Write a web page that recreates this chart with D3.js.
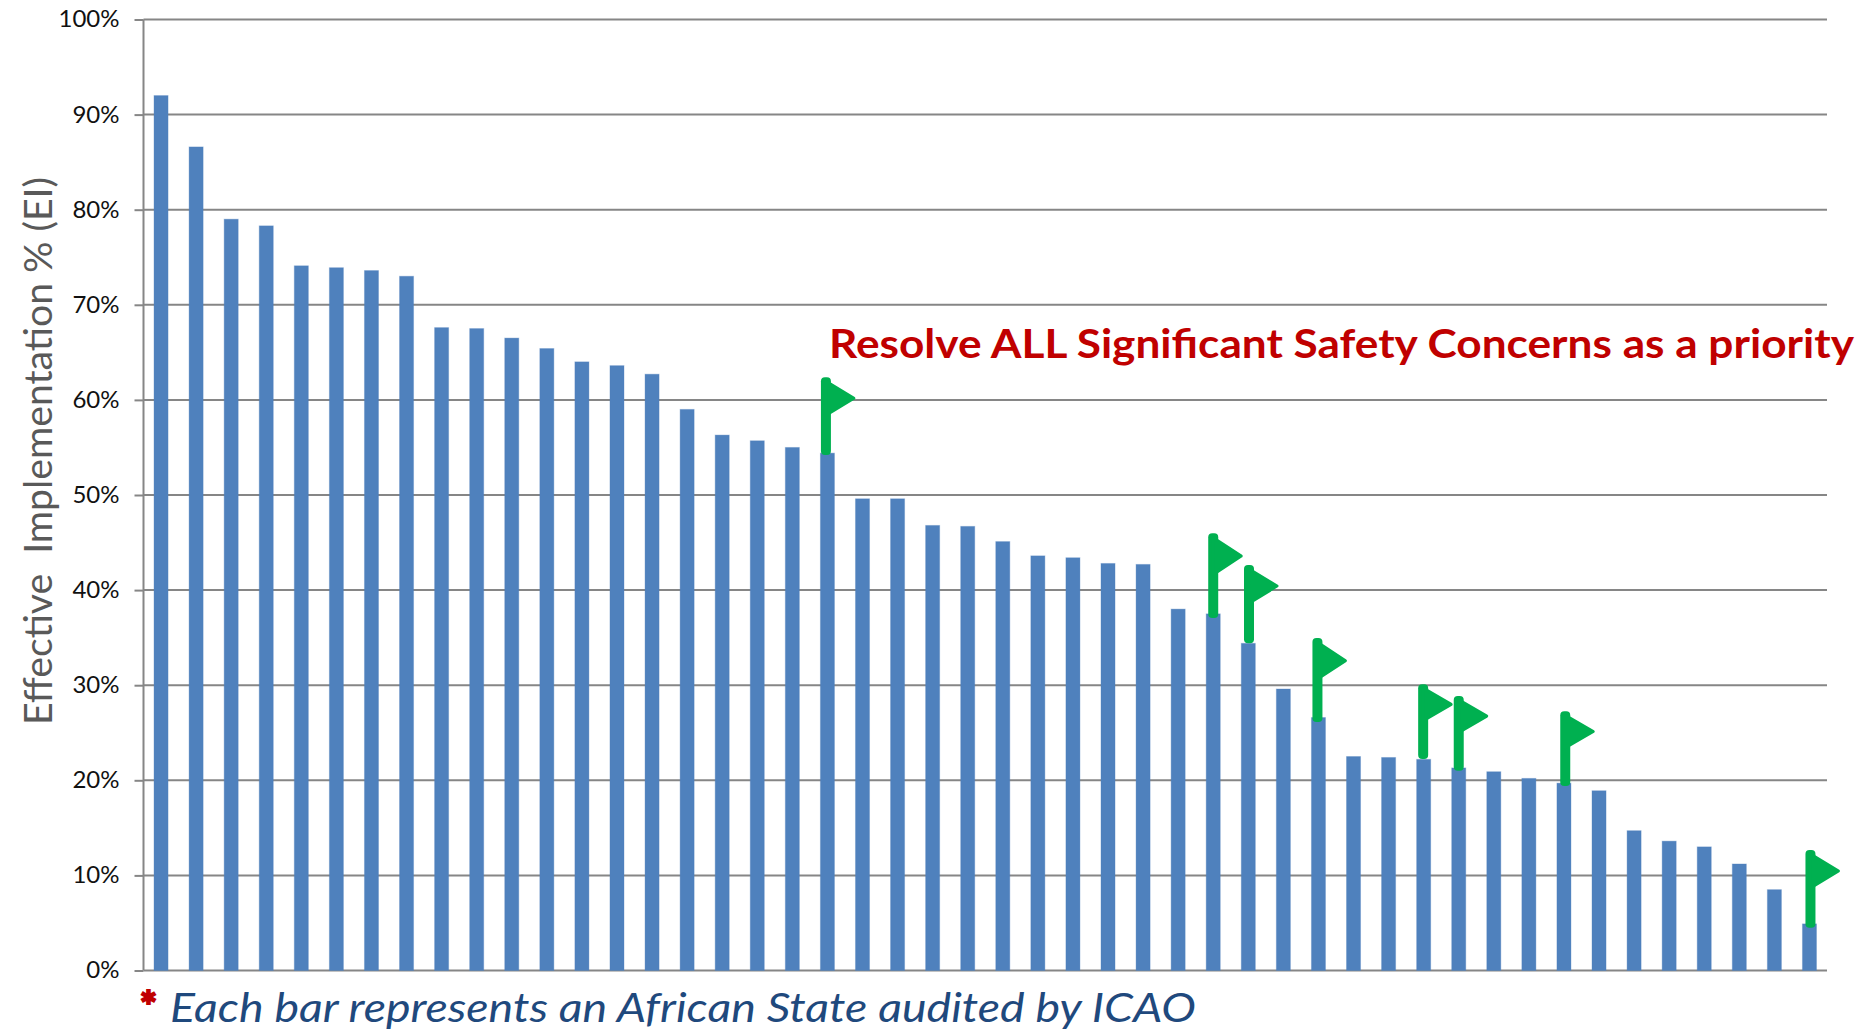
<!DOCTYPE html>
<html><head><meta charset="utf-8">
<script src="https://cdn.jsdelivr.net/npm/d3@7"></script>
<style>html,body{margin:0;padding:0;background:#fff;overflow:hidden}svg{display:block}text{font-family:Lato,sans-serif}</style>
</head><body><svg id="c" width="1872" height="1030"></svg>
<script>
const values=[92,86.6,79,78.3,74.1,73.9,73.6,73,67.6,67.5,66.5,65.4,64,63.6,62.7,59,56.3,55.7,55,54.4,49.6,49.6,46.8,46.7,45.1,43.6,43.4,42.8,42.7,38,37.5,34.4,29.6,26.6,22.5,22.4,22.2,21.3,20.9,20.2,19.7,18.9,14.7,13.6,13,11.2,8.5,4.9];
const flagged=[20,31,32,34,37,38,41,48];
const flagTops=[62.38,45.97,42.64,34.96,30.1,28.87,27.25,12.67];
const flagFeet=[54.2,37.07,34.4,26.13,22.24,21.0,19.4,4.5];
const flagNudge=[-1.5,0,0.7,-1,-0.5,0,1.3,1];
const yTicks=[0,10,20,30,40,50,60,70,80,90,100];
const svg=d3.select("#c");
const left=143.5,right=1827,top_=19.5,bottom=970.5;
const x=d3.scaleBand().domain(d3.range(1,values.length+1)).range([left,right]).paddingInner(0.6).paddingOuter(0.3);
const y=d3.scaleLinear().domain([0,100]).range([bottom,top_]);
const axis=svg.append("g").attr("transform",`translate(${left},0)`)
 .call(d3.axisLeft(y).tickValues(yTicks).tickFormat(d=>d+"%").tickSize(9).tickPadding(15));
axis.select(".domain").remove();
axis.selectAll(".tick line").attr("stroke","#868686").attr("stroke-width",2);
axis.selectAll(".tick text").attr("fill","#111").attr("dy","0.31em").style("font-size","24px");
svg.append("g").selectAll("line").data(yTicks).join("line")
 .attr("x1",left).attr("x2",right).attr("y1",d=>y(d)).attr("y2",d=>y(d))
 .attr("stroke","#868686").attr("stroke-width",2);
svg.append("line").attr("x1",left).attr("x2",left).attr("y1",top_).attr("y2",bottom).attr("stroke","#868686").attr("stroke-width",2);
svg.append("g").selectAll("rect").data(values).join("rect")
 .attr("x",(d,i)=>x(i+1)).attr("width",x.bandwidth()).attr("y",d=>y(d)).attr("height",d=>bottom-y(d))
 .attr("fill","#4F81BD").attr("stroke","#4F81BD").attr("stroke-opacity",0.35).attr("stroke-width",1);
const flags=svg.append("g").selectAll("g").data(flagged).join("g")
 .attr("transform",(d,i)=>`translate(${x(d)+x.bandwidth()/2+flagNudge[i]},${y(flagTops[i])})`);
const poleH=(i)=>y(flagFeet[i])-y(flagTops[i]);
flags.append("rect").attr("x",-5).attr("width",10).attr("y",0).attr("height",(d,i)=>poleH(i)).attr("rx",4).attr("fill","#00B050");
flags.append("path").attr("d",(d,i)=>{const k=poleH(i)/78;return `M0,${4*k} L28,${21*k} L0,${38*k} Z`;})
 .attr("fill","#00B050").attr("stroke","#00B050").attr("stroke-width",3).attr("stroke-linejoin","round");
svg.append("text").attr("x",829).attr("y",358).attr("fill","#C00000").attr("font-weight",700).attr("textLength",1025).attr("lengthAdjust","spacingAndGlyphs").style("font-size","41px").text("Resolve ALL Significant Safety Concerns as a priority");
svg.append("text").attr("transform","translate(52,451) rotate(-90)").attr("text-anchor","middle").attr("fill","#595959").attr("textLength",548).attr("lengthAdjust","spacingAndGlyphs").style("font-size","38px").style("white-space","pre").text("Effective  Implementation % (EI)");
svg.append("text").attr("x",140).attr("y",1021).attr("fill","#C00000").attr("stroke","#C00000").attr("stroke-width",2).attr("font-weight",900).style("font-size","40px").text("*");
svg.append("text").attr("x",170).attr("y",1022).attr("fill","#1F497D").attr("font-style","italic").attr("textLength",1026).attr("lengthAdjust","spacingAndGlyphs").style("font-size","41px").text("Each bar represents an African State audited by ICAO");
</script></body></html>
